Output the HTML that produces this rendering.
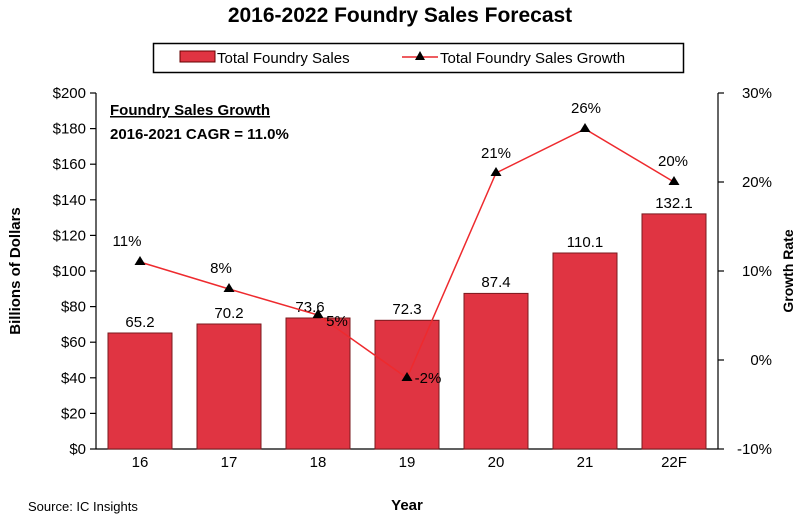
<!DOCTYPE html>
<html><head><style>body{margin:0;background:#fff}svg{display:block}text{font-family:"Liberation Sans",sans-serif;fill:#000}</style></head><body>
<svg width="800" height="518" viewBox="0 0 800 518">
<text x="400" y="22" font-size="21" font-weight="bold" text-anchor="middle">2016-2022 Foundry Sales Forecast</text>
<rect x="153.5" y="43.5" width="530" height="29" fill="#fff" stroke="#000" stroke-width="1.5"/>
<rect x="180" y="51" width="35" height="11" fill="#e03442" stroke="#600" stroke-width="1"/>
<text x="217" y="63" font-size="15">Total Foundry Sales</text>
<line x1="402" y1="57" x2="438" y2="57" stroke="#e8262c" stroke-width="1.5"/>
<polygon points="420,51 425,60 415,60" fill="#000"/>
<text x="440" y="63" font-size="15">Total Foundry Sales Growth</text>
<g stroke="#000" stroke-width="1.2">
<line x1="96" y1="93" x2="96" y2="449"/><line x1="718" y1="93" x2="718" y2="449"/><line x1="96" y1="449" x2="718" y2="449"/>
<line x1="90" y1="93" x2="96" y2="93"/><line x1="90" y1="128.6" x2="96" y2="128.6"/><line x1="90" y1="164.2" x2="96" y2="164.2"/><line x1="90" y1="199.8" x2="96" y2="199.8"/><line x1="90" y1="235.4" x2="96" y2="235.4"/><line x1="90" y1="271" x2="96" y2="271"/><line x1="90" y1="306.6" x2="96" y2="306.6"/><line x1="90" y1="342.2" x2="96" y2="342.2"/><line x1="90" y1="377.8" x2="96" y2="377.8"/><line x1="90" y1="413.4" x2="96" y2="413.4"/><line x1="90" y1="449" x2="96" y2="449"/>
<line x1="718" y1="93" x2="724" y2="93"/><line x1="718" y1="182" x2="724" y2="182"/><line x1="718" y1="271" x2="724" y2="271"/><line x1="718" y1="360" x2="724" y2="360"/><line x1="718" y1="449" x2="724" y2="449"/>
</g>
<g font-size="15" text-anchor="end">
<text x="86" y="98">$200</text><text x="86" y="133.6">$180</text><text x="86" y="169.2">$160</text><text x="86" y="204.8">$140</text><text x="86" y="240.4">$120</text><text x="86" y="276">$100</text><text x="86" y="311.6">$80</text><text x="86" y="347.2">$60</text><text x="86" y="382.8">$40</text><text x="86" y="418.4">$20</text><text x="86" y="454">$0</text>
</g>
<g font-size="15" text-anchor="end">
<text x="772" y="98">30%</text><text x="772" y="187">20%</text><text x="772" y="276">10%</text><text x="772" y="365">0%</text><text x="772" y="454">-10%</text>
</g>
<text transform="translate(20,271) rotate(-90)" font-size="15" font-weight="bold" text-anchor="middle">Billions of Dollars</text>
<text transform="translate(793,271) rotate(-90)" font-size="14" font-weight="bold" text-anchor="middle">Growth Rate</text>
<text x="407" y="510" font-size="15" font-weight="bold" text-anchor="middle">Year</text>
<text x="28" y="511" font-size="13">Source: IC Insights</text>
<text x="110" y="115" font-size="15" font-weight="bold" text-decoration="underline">Foundry Sales Growth</text>
<text x="110" y="139" font-size="15" font-weight="bold">2016-2021 CAGR = 11.0%</text>
<g fill="#e03442" stroke="#7a1a1e" stroke-width="1">
<rect x="108" y="333" width="64" height="116"/><rect x="197" y="324" width="64" height="125"/><rect x="286" y="318" width="64" height="131"/><rect x="375" y="320.3" width="64" height="128.7"/><rect x="464" y="293.4" width="64" height="155.6"/><rect x="553" y="253" width="64" height="196"/><rect x="642" y="213.9" width="64" height="235.1"/>
</g>
<g font-size="15" text-anchor="middle">
<text x="140" y="327">65.2</text><text x="229" y="318">70.2</text><text x="310" y="312">73.6</text><text x="407" y="314">72.3</text><text x="496" y="287">87.4</text><text x="585" y="247">110.1</text><text x="674" y="208">132.1</text>
<text x="140" y="467">16</text><text x="229" y="467">17</text><text x="318" y="467">18</text><text x="407" y="467">19</text><text x="496" y="467">20</text><text x="585" y="467">21</text><text x="674" y="467">22F</text>
</g>
<polyline points="140,262 229,289 318,315 407,378 496,173 585,129 674,182" fill="none" stroke="#ee2a2e" stroke-width="1.5"/>
<g fill="#000">
<polygon points="140,256 145.5,265 134.5,265"/><polygon points="229,283 234.5,292 223.5,292"/><polygon points="318,309 323.5,318 312.5,318"/><polygon points="407,372 412.5,381 401.5,381"/><polygon points="496,167 501.5,176 490.5,176"/><polygon points="585,123 590.5,132 579.5,132"/><polygon points="674,176 679.5,185 668.5,185"/>
</g>
<g font-size="15" text-anchor="middle">
<text x="127" y="246">11%</text><text x="221" y="273">8%</text><text x="337" y="326">5%</text><text x="428" y="383">-2%</text><text x="496" y="158">21%</text><text x="586" y="113">26%</text><text x="673" y="166">20%</text>
</g>
</svg>
</body></html>
